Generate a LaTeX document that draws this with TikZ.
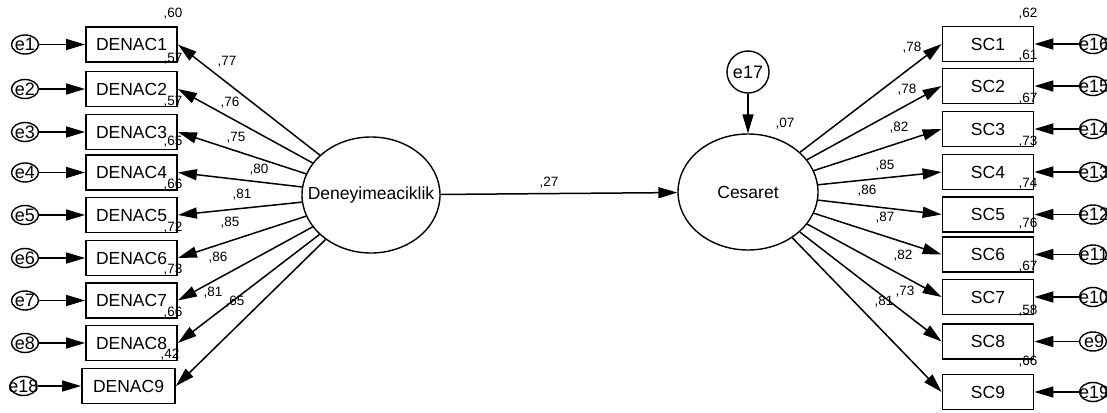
\documentclass[tikz,border=0pt]{standalone}
\usepackage{fontspec}
\setmainfont{Liberation Sans}
\usetikzlibrary{shapes.geometric,arrows.meta}
\begin{document}
\begin{tikzpicture}[x=1pt,y=-1pt,
  obs/.style={draw,line width=1.8pt,minimum width=91pt,minimum height=35pt,inner sep=0pt,font=\fontsize{17.5}{20}\selectfont},
  lat/.style={draw,ellipse,line width=1.4pt,inner sep=0pt},
  err/.style={draw,ellipse,line width=1.4pt,minimum width=27pt,minimum height=19pt,inner sep=0pt},
  errtxt/.style={font=\fontsize{18}{20}\selectfont,inner sep=0pt},
  num/.style={font=\fontsize{13.5}{15}\selectfont,inner sep=0pt},
  arr/.style={line width=1.5pt,-{Triangle[length=19pt,width=11pt]}}
]
\useasboundingbox (0,0) rectangle (1107,412);
% latent variables
\node[lat,minimum width=138pt,minimum height=116pt] (L1) at (371,195) {};
\node[font=\fontsize{17.5}{20}\selectfont,inner sep=0pt] (L1t) at (371,195) {Deneyimeaciklik};
\node[lat,minimum width=140pt,minimum height=116pt] (L2) at (748,192) {};
\node[font=\fontsize{17.5}{20}\selectfont,inner sep=0pt] (L2t) at (748,192) {Cesaret};
\node[err,minimum width=42pt,minimum height=42pt] (e17) at (748,72) {};
\node[errtxt] (e17t) at (748,72) {e17};
\draw[arr] (e17) -- (L2);
\node[num] (n07) at (785,124) {,07};
\draw[arr] (L1) -- (L2);
\node[num] (n27) at (549,183) {,27};
% left indicators
\foreach \i/\y/\e/\r in {1/44.5/e1/{,60}, 2/89/e2/{,57}, 3/132/e3/{,57}, 4/172.5/e4/{,65}, 5/215/e5/{,66}, 6/258/e6/{,72}, 7/300.5/e7/{,73}, 8/343/e8/{,66}}{
  \node[obs] (d\i) at (131.5,\y) {DENAC\i};
  \node[err] (ed\i) at (25,\y) {};
  \node[errtxt] (edt\i) at (25,\y) {\e};
  \draw[arr] (ed\i) -- (d\i);
  \draw[arr] (L1) -- (d\i.east);
  \node[num] (rd\i) at (173,\y-30.5) {\r};
}
\node[obs,minimum width=93pt] (d9) at (128.5,386) {DENAC9};
\node[err] (ed9) at (23.5,386) {};
\node[errtxt] (edt9) at (23.5,386) {e18};
\draw[arr] (ed9) -- (d9);
\draw[arr] (L1) -- (d9.east);
\node[num] (rd9) at (170,355) {,42};
% loading labels left
\node[num] (ld1) at (227,62) {,77};
\node[num] (ld2) at (230,103) {,76};
\node[num] (ld3) at (236,138) {,75};
\node[num] (ld4) at (259,170) {,80};
\node[num] (ld5) at (242,195) {,81};
\node[num] (ld6) at (230,223) {,85};
\node[num] (ld7) at (218,258) {,86};
\node[num] (ld8) at (213,293) {,81};
\node[num] (ld9) at (235,302) {,65};
% right indicators
\foreach \i/\y/\e/\r in {1/44/e16/{,62}, 2/86/e15/{,61}, 3/129/e14/{,67}, 4/172/e13/{,73}, 5/214.5/e12/{,74}, 6/254.5/e11/{,76}, 7/297/e10/{,67}, 8/341.5/e9/{,58}, 9/392/e19/{,66}}{
  \node[obs] (s\i) at (988,\y) {SC\i};
  \node[err] (es\i) at (1093,\y) {};
  \node[errtxt] (est\i) at (1094,\y) {\e};
  \draw[arr] (es\i) -- (s\i);
  \draw[arr] (L2) -- (s\i.west);
  \node[num] (rs\i) at (1028,\y-30.5) {\r};
}
% loading labels right
\node[num] (ls1) at (912,48) {,78};
\node[num] (ls2) at (907,90) {,78};
\node[num] (ls3) at (899,128) {,82};
\node[num] (ls4) at (885,166) {,85};
\node[num] (ls5) at (867,191) {,86};
\node[num] (ls6) at (885,218) {,87};
\node[num] (ls7) at (903,256) {,82};
\node[num] (ls8) at (905,292) {,73};
\node[num] (ls9) at (884,302) {,81};
\end{tikzpicture}
\end{document}
